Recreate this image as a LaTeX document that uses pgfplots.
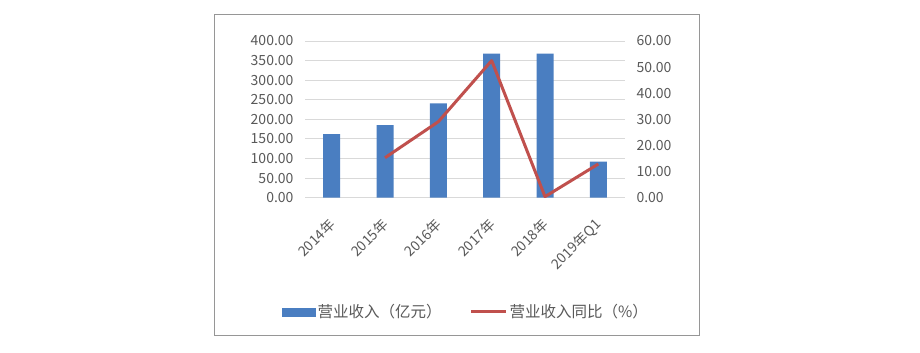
\documentclass[border=0pt]{standalone}
\usepackage{fontspec}
\setmainfont{Noto Sans CJK SC}
\usepackage{pgfplots}
\pgfplotsset{compat=1.18}
\definecolor{barblue}{RGB}{74,126,193}
\definecolor{linered}{RGB}{192,80,77}
\definecolor{txtgray}{RGB}{89,89,89}
\definecolor{gridgray}{RGB}{217,217,217}
\definecolor{boxgray}{RGB}{150,150,150}
\begin{document}
\begin{tikzpicture}
\fill[white] (0pt,0pt) rectangle (920pt,353pt);
\draw[boxgray, line width=0.9pt] (214pt,18pt) rectangle (699pt,338.3pt);
\pgfplotsset{
  base/.style={
    at={(305pt,155.3pt)}, anchor=south west, scale only axis,
    width=320pt, height=156.7pt,
    xmin=-0.5, xmax=5.5,
    axis line style={draw=none},
    major tick length=0pt,
    tick label style={font=\fontsize{14}{16}\selectfont, text=txtgray},
    /pgf/number format/assume math mode=true,
    yticklabel style={/pgf/number format/fixed, /pgf/number format/fixed zerofill, /pgf/number format/precision=2},
  }
}
\begin{axis}[base,
  ymin=0, ymax=400, ytick={0,50,...,400},
  ymajorgrids, grid style={gridgray, line width=0.9pt},
  xtick={0,1,2,3,4,5},
  xticklabels={2014年,2015年,2016年,2017年,2018年,2019年Q1},
  xticklabel style={yshift=-22pt, xshift=3pt, rotate=45, anchor=east},
  yticklabel style={xshift=-8pt},
]
\addplot[ybar, bar width=17pt, fill=barblue, draw=none] coordinates {
  (0,162.5) (1,185.5) (2,241) (3,368) (4,368) (5,92)
};
\end{axis}
\begin{axis}[base,
  ymin=0, ymax=60, ytick={0,10,...,60},
  axis y line*=right, hide x axis,
  yticklabel style={xshift=8pt},
  legend columns=2,
  legend style={at={(0.503,-0.729)}, anchor=center, draw=none, fill=none,
    font=\fontsize{15.5}{17}\selectfont, text=txtgray,
    /tikz/every odd column/.append style={column sep=0pt},
    /tikz/every even column/.append style={column sep=26pt}},
]
\addlegendimage{legend image code/.code={\fill[barblue] (0pt,-4pt) rectangle (33pt,4pt);}}
\addlegendentry{营业收入（亿元）}
\addplot[linered, line width=3pt, line join=round,
  legend image code/.code={\draw[linered, line width=3pt] (0pt,0pt) -- (35pt,0pt);}] coordinates {
  (1,15.3) (2,29.1) (3,52.5) (4,0.4) (5,12.9)
};
\addlegendentry{营业收入同比（\%）}
\end{axis}
\end{tikzpicture}
\end{document}
